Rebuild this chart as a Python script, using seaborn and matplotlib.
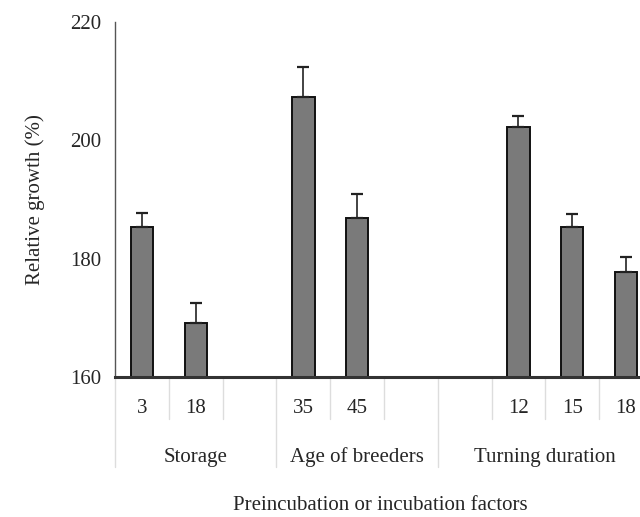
import numpy as np
import pandas as pd
import seaborn as sns
import matplotlib.pyplot as plt
from matplotlib.transforms import blended_transform_factory

# factor groups, each slot is a level ('' = empty slot)
groups = ["Storage", "Age of breeders", "Turning duration"]
group_levels = [["3", "18", ""], ["35", "45", ""], ["", "12", "15", "18"]]

# values per non-empty level (relative growth, %) and upper error
growth = [185.3, 169.2, 207.3, 186.9, 202.2, 185.4, 177.8]
err_up = [2.5, 3.3, 5.1, 4.1, 1.9, 2.2, 2.4]

sns.set_theme(style="white")
plt.rcParams["font.family"] = ["Liberation Serif", "DejaVu Serif"]

# slot layout
slot_labels = [lv for g in group_levels for lv in g]
slot_pos = np.arange(len(slot_labels))
bar_pos = [p for p, lv in zip(slot_pos, slot_labels) if lv != ""]

df = pd.DataFrame({"pos": bar_pos, "growth": growth})

fig = plt.figure(figsize=(6.4, 5.17), dpi=100)
ax = fig.add_axes([0.18, 0.271, 0.84, 0.686])

sns.barplot(data=df, x="pos", y="growth", native_scale=True, width=0.42,
            color="#7a7a7a", edgecolor="#111111", linewidth=1.4,
            saturation=1, ax=ax, errorbar=None)
ax.errorbar(bar_pos, growth, yerr=[np.zeros(len(err_up)), err_up], fmt="none",
            ecolor="#222222", elinewidth=1.2, capsize=4, capthick=1.6)

ax.set_xlim(-0.5, len(slot_labels) - 0.5)
ax.set_ylim(160, 220)
ax.set_yticks([160, 180, 200, 220])
ax.tick_params(axis="y", labelsize=15, length=0, pad=10)
ax.set_xticks([])
ax.set_xlabel("")
ax.set_ylabel("Relative growth (%)", fontsize=15, labelpad=18)

for s in ["top", "right"]:
    ax.spines[s].set_visible(False)
ax.spines["left"].set_color("#555555")
ax.spines["left"].set_linewidth(1.0)
ax.spines["bottom"].set_color("#333333")
ax.spines["bottom"].set_linewidth(2.2)

# category table below the axis
tr = blended_transform_factory(ax.transData, ax.transAxes)
grid_c = "#dddddd"
start = 0
for g, levels in zip(groups, group_levels):
    ax.plot([start - 0.5, start - 0.5], [0, -0.255], color=grid_c, lw=1,
            transform=tr, clip_on=False)
    for i, lv in enumerate(levels):
        p = start + i
        if i > 0:
            ax.plot([p - 0.5, p - 0.5], [0, -0.12], color=grid_c, lw=1,
                    transform=tr, clip_on=False)
        ax.text(p, -0.09, lv, transform=tr, ha="center", va="center",
                fontsize=15)
    center = start + (len(levels) - 1) / 2
    ax.text(center, -0.226, g, transform=tr, ha="center", va="center",
            fontsize=15)
    start += len(levels)

fig.text(0.595, 0.023, "Preincubation or incubation factors", ha="center",
         va="center", fontsize=15)

fig.savefig("out.png", dpi=100)
